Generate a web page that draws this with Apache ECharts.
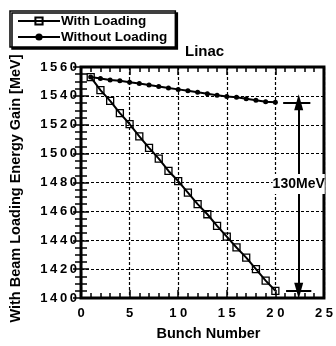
<!DOCTYPE html>
<html>
<head>
<meta charset="utf-8">
<script src="https://cdn.jsdelivr.net/npm/echarts@6/dist/echarts.min.js"></script>
<style>
  html, body { margin: 0; padding: 0; background: #fff; }
  #app { width: 336px; height: 346px; }
</style>
</head>
<body>
<div id="app"></div>
<script>
// bunch numbers and energy gains
const bunches = [1, 2, 3, 4, 5, 6, 7, 8, 9, 10, 11, 12, 13, 14, 15, 16, 17, 18, 19, 20];
const withLoading = [1553, 1544, 1536.5, 1528, 1520.5, 1512, 1504, 1496.5, 1488, 1481,
    1473, 1465, 1458, 1450, 1442.5, 1435, 1428, 1420, 1412, 1405];
const withoutLoading = [1553, 1552, 1551, 1550.5, 1549.5, 1548.5, 1547.5, 1546.5, 1545.5, 1544.5,
    1543.5, 1542.5, 1541.5, 1540.5, 1539.5, 1539, 1538, 1537, 1536, 1535.5];
const xTicks = [0, 5, 10, 15, 20, 25];
const yTicks = [1400, 1420, 1440, 1460, 1480, 1500, 1520, 1540, 1560];
const gainLabel = '130MeV';

const FONT = 'Liberation Sans';
const thinSpaced = v => String(v).split('').join('\u2009');
const spaced = v => String(v).split('').join(' ');

const chart = echarts.init(document.getElementById('app'), null, {renderer: 'canvas'});

const pair = (xs, ys) => xs.map((x, i) => [x, ys[i]]);
const axisText = {color: '#000', fontFamily: FONT, fontWeight: 'bold', fontSize: 13};

const baseX = {
    type: 'value', min: xTicks[0], max: xTicks[xTicks.length - 1], interval: 5,
    axisLine: {show: false},
    axisTick: {show: true, inside: true, length: 8, lineStyle: {color: '#000', width: 1.5}},
    minorTick: {show: true, splitNumber: 5, length: 5, lineStyle: {color: '#000', width: 1.5}},
    splitLine: {show: false}
};
const baseY = {
    type: 'value', min: yTicks[0], max: yTicks[yTicks.length - 1], interval: 20,
    axisLine: {show: false},
    axisTick: {show: true, inside: true, length: 8, lineStyle: {color: '#000', width: 1.5}},
    minorTick: {show: true, splitNumber: 4, length: 6, lineStyle: {color: '#000', width: 1.5}},
    splitLine: {show: false}
};

chart.setOption({
    animation: false,
    backgroundColor: '#fff',
    title: {
        text: 'Linac', left: 180, top: 39,
        textStyle: {fontFamily: FONT, fontWeight: 'bold', fontSize: 15, color: '#000'}
    },
    legend: {
        data: ['With Loading', 'Without Loading'],
        orient: 'vertical', left: 10, top: 11,
        padding: [3, 8, 3, 7],
        itemWidth: 42, itemHeight: 9, itemGap: 2,
        borderColor: '#000', borderWidth: 1.5,
        backgroundColor: '#fff',
        shadowColor: '#000', shadowBlur: 0, shadowOffsetX: 2, shadowOffsetY: 2,
        textStyle: {fontFamily: FONT, fontWeight: 'bold', fontSize: 13.5, color: '#000', padding: [0, 0, 0, -4]}
    },
    grid: {
        left: 80, right: 10, top: 67, bottom: 41,
        show: true, borderColor: '#000', borderWidth: 3
    },
    xAxis: [
        Object.assign({}, baseX, {
            position: 'bottom',
            name: 'Bunch Number', nameLocation: 'middle', nameGap: 28,
            nameTextStyle: Object.assign({}, axisText, {fontSize: 14.5, padding: [0, 0, 0, 12]}),
            axisLabel: Object.assign({}, axisText, {margin: 9, formatter: spaced}),
            splitLine: {show: true, lineStyle: {color: '#000', type: [3, 2], width: 1.2}}
        }),
        Object.assign({}, baseX, {position: 'top', axisLabel: {show: false}})
    ],
    yAxis: [
        Object.assign({}, baseY, {
            position: 'left',
            name: 'With Beam Loading Energy Gain [MeV]', nameLocation: 'middle', nameGap: 58,
            nameTextStyle: Object.assign({}, axisText, {fontSize: 14.5, padding: [0, 12, 0, 0]}),
            axisLabel: Object.assign({}, axisText, {margin: 4, formatter: thinSpaced}),
            splitLine: {show: true, lineStyle: {color: '#000', type: [3, 2], width: 1.2}}
        }),
        Object.assign({}, baseY, {position: 'right', axisLabel: {show: false}})
    ],
    series: [
        {
            name: 'With Loading', type: 'line',
            data: pair(bunches, withLoading),
            symbol: 'rect', symbolSize: 7,
            itemStyle: {color: 'rgba(255,255,255,0)', borderColor: '#000', borderWidth: 1.3},
            lineStyle: {color: '#000', width: 2},
            z: 3
        },
        {
            name: 'Without Loading', type: 'line',
            data: pair(bunches, withoutLoading),
            symbol: 'circle', symbolSize: 5,
            itemStyle: {color: '#000'},
            lineStyle: {color: '#000', width: 2},
            z: 3
        },
        {
            name: 'annotation', type: 'line', data: [],
            markLine: {
                silent: true,
                label: {show: false},
                lineStyle: {color: '#000', width: 2, type: 'solid'},
                data: [
                    [{coord: [22.4, withoutLoading[withoutLoading.length - 1]], symbol: 'triangle', symbolSize: [9, 16]},
                     {coord: [22.4, withLoading[withLoading.length - 1]], symbol: 'triangle', symbolSize: [9, 16]}],
                    [{coord: [20.8, withoutLoading[withoutLoading.length - 1]], symbol: 'none'},
                     {coord: [23.6, withoutLoading[withoutLoading.length - 1]], symbol: 'none'}],
                    [{coord: [21.1, withLoading[withLoading.length - 1]], symbol: 'none'},
                     {coord: [23.7, withLoading[withLoading.length - 1]], symbol: 'none'}]
                ]
            },
            markPoint: {
                silent: true,
                symbol: 'rect', symbolSize: 0,
                label: {
                    show: true, formatter: gainLabel,
                    fontFamily: FONT, fontWeight: 'bold', fontSize: 14, color: '#000',
                    backgroundColor: '#fff', padding: [3, 0]
                },
                data: [{coord: [22.4, 1479]}]
            },
            z: 4
        }
    ]
});

addEventListener('resize', () => chart.resize());
</script>
</body>
</html>
